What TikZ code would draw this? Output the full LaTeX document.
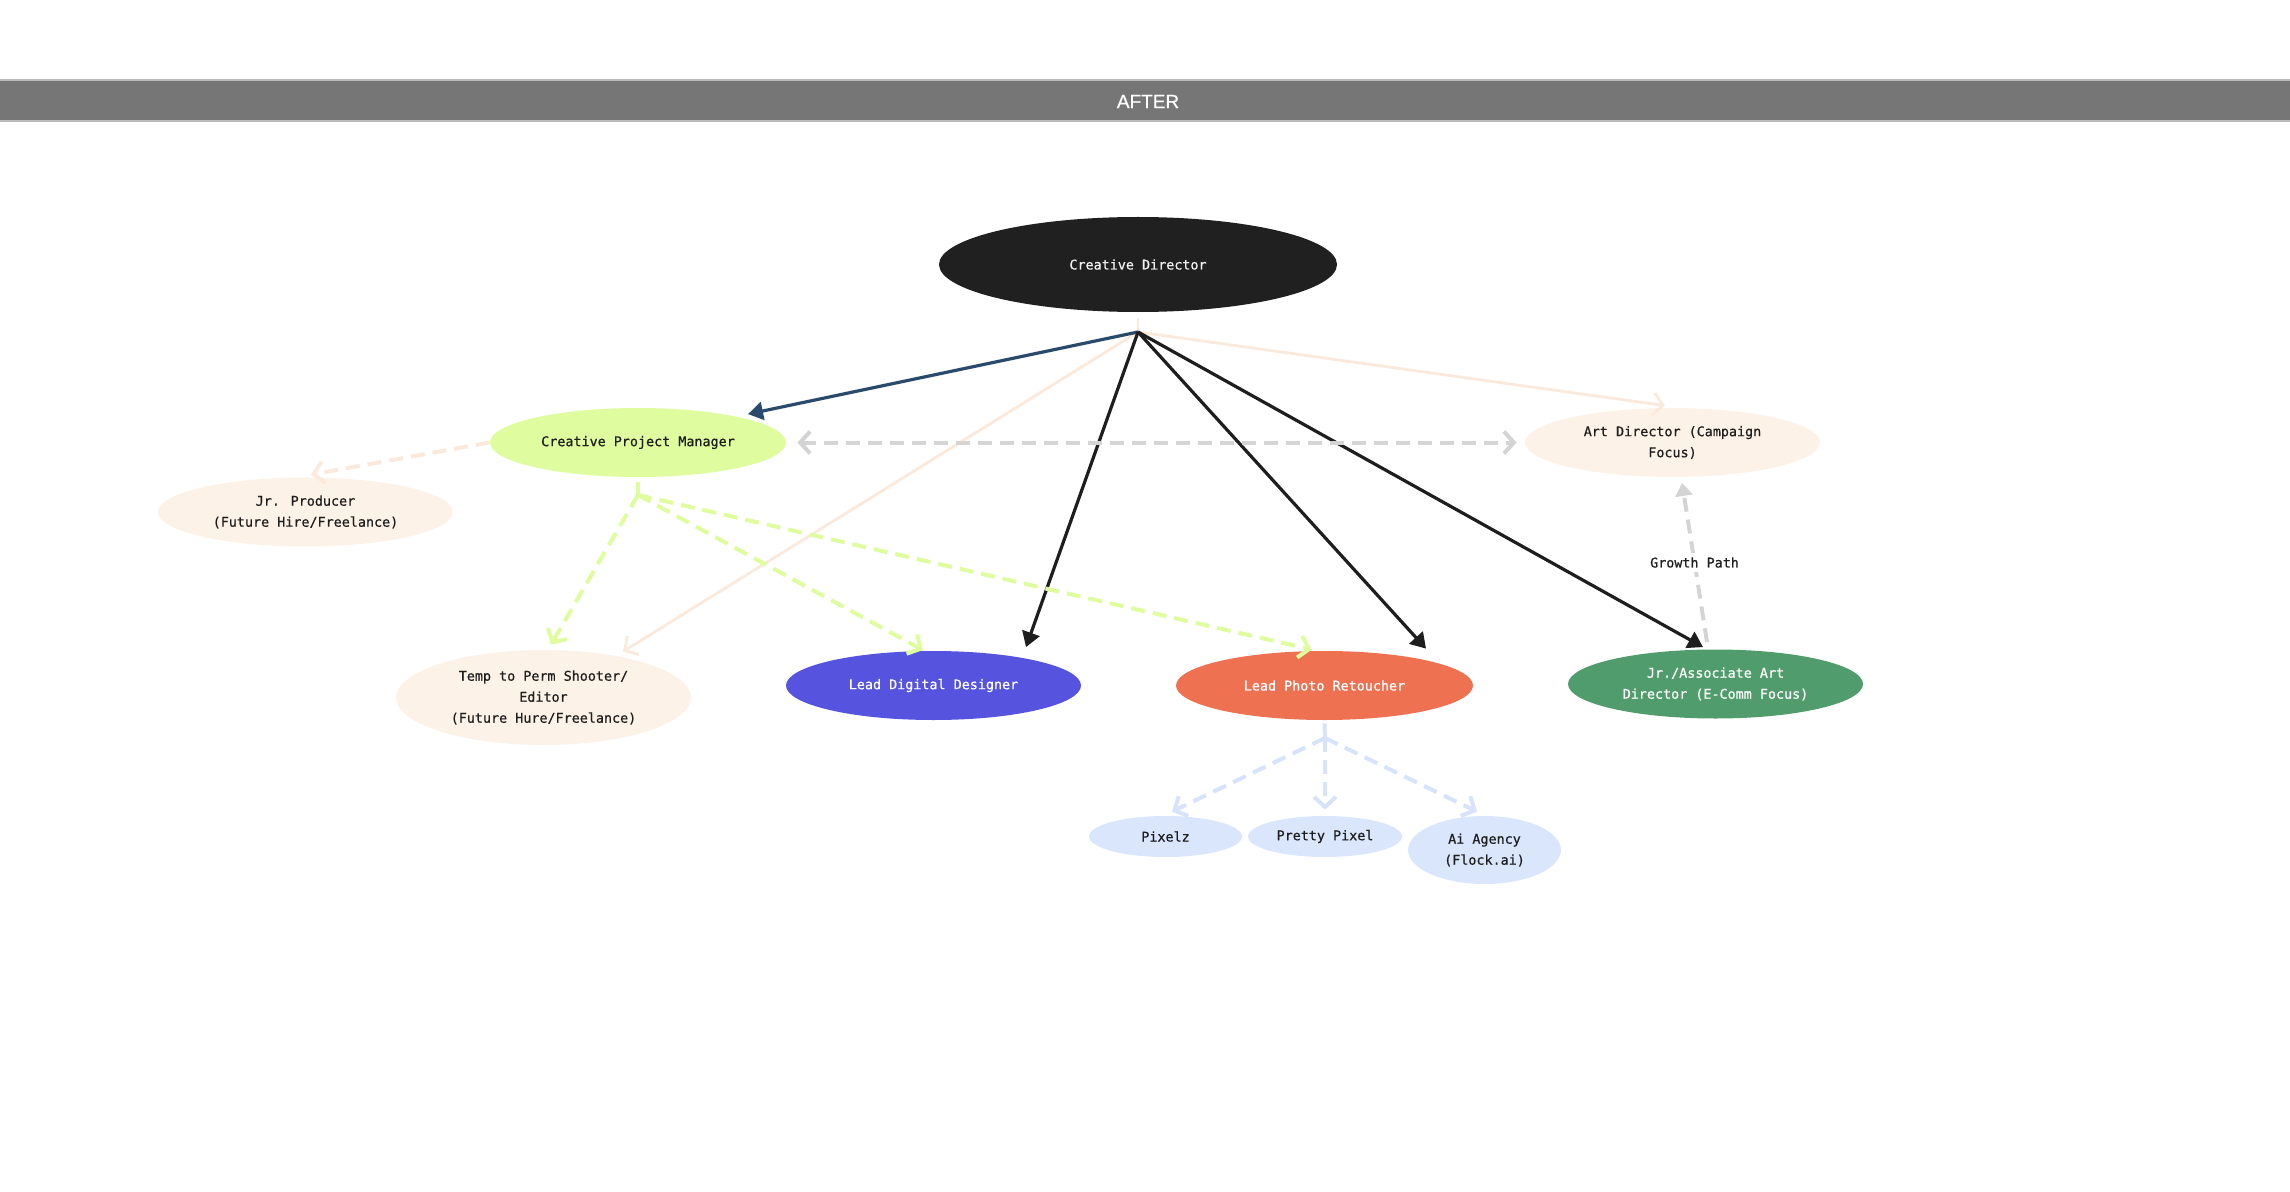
\documentclass[tikz,border=0pt]{standalone}
\usepackage{fontspec}
\newfontfamily\rolefont{DejaVu Sans Mono}[FakeBold=0.6]
\newfontfamily\barfont{Liberation Sans}[FakeBold=0.8]
\usetikzlibrary{arrows.meta}
\usetikzlibrary{shapes.geometric}
\definecolor{bargrey}{HTML}{767676}
\definecolor{barline}{HTML}{BBBBBB}
\definecolor{inkgrey}{HTML}{1E1E1E}
\definecolor{cdblack}{HTML}{202020}
\definecolor{cdtext}{HTML}{F2F2F2}
\definecolor{pmlime}{HTML}{DFFC9E}
\definecolor{peach}{HTML}{FDF2E8}
\definecolor{peachline}{HTML}{FBEADC}
\definecolor{digiblue}{HTML}{5653DF}
\definecolor{retouch}{HTML}{EE7152}
\definecolor{adgreen}{HTML}{509C6C}
\definecolor{vendorblue}{HTML}{DAE6FB}
\definecolor{vendorline}{HTML}{D6E3FA}
\definecolor{pmblue}{HTML}{2A4A6B}
\definecolor{lineblack}{HTML}{1E1E1E}
\definecolor{peergrey}{HTML}{D4D4D4}
\tikzset{role/.style = {ellipse, inner sep = 0, align = center, text = inkgrey,
    font = \rolefont\fontsize{6.7}{10.5}\selectfont,
    minimum width = 147.5pt, minimum height = 34.5pt}}
\tikzset{vendor/.style = {role, fill = vendorblue, minimum width = 76.5pt, minimum height = 20.5pt}}
\tikzset{report/.style = {line width = 1.6pt, draw = lineblack, -{Triangle[length = 7.5pt, width = 9pt]}}}
\tikzset{future/.style = {line width = 1.4pt, draw = peachline, -{Straight Barb[length = 5pt, width = 11pt]}}}
\tikzset{assign/.style = {line width = 2pt, dash pattern = on 7pt off 4pt, -{Straight Barb[length = 5pt, width = 11pt]}}}

\begin{document}
\begin{tikzpicture}[x = 0.5pt, y = -0.5pt]
      \useasboundingbox (0, 0) rectangle (2290, 1192);
      \fill [bargrey] (0, 80) rectangle (2290, 121);
      \draw [barline, line width = 0.6pt] (0, 80) -- (2290, 80) (0, 121) -- (2290, 121);
      \node [text = white, font = \barfont\fontsize{9.5}{11}\selectfont] (after) at (1148, 101.5) {AFTER};

      \node [role, fill = cdblack, text = cdtext, minimum width = 199pt, minimum height = 47.5pt] (cd) at (1138, 264.5) {Creative Director};
      \node [role, fill = pmlime, minimum width = 148pt] (cpm) at (638, 442.5) {Creative Project Manager};
      \node [role, fill = peach] (jrprod) at (305.5, 512) {Jr. Producer\\(Future Hire/Freelance)};
      \node [role, fill = peach] (artdir) at (1672.5, 442.5) {Art Director (Campaign\\Focus)};
      \node [role, fill = peach, minimum height = 47.5pt] (shooter) at (543.5, 697.5) {Temp to Perm Shooter/\\Editor\\(Future Hure/Freelance)};
      \node [role, fill = digiblue, text = white] (digital) at (933.5, 685.5) {Lead Digital Designer};
      \node [role, fill = retouch, text = white, minimum width = 148.5pt] (retoucher) at (1324.5, 685.5) {Lead Photo Retoucher};
      \node [role, fill = adgreen, text = white] (jrad) at (1715.5, 684) {Jr./Associate Art\\Director (E-Comm Focus)};
      \node [vendor] (pixelz) at (1165.5, 836.5) {Pixelz};
      \node [vendor, minimum width = 77pt] (pretty) at (1325, 836.5) {Pretty Pixel};
      \node [vendor, minimum height = 34pt] (aiagency) at (1484.5, 850) {Ai Agency\\(Flock.ai)};

      \coordinate (cdhub) at (1138, 332);
      \coordinate (cpmhub) at (638, 495);
      \coordinate (rethub) at (1325, 738);

      \draw [future, -] ([shift = {(0, 6)}]cd.south) -- (cdhub);
      \draw [future] (cdhub) -- ([shift = {(-7.5, -2)}]artdir.north);
      \draw [future] (cdhub) -- ([shift = {(79.5, 2)}]shooter.north);
      \draw [report, draw = pmblue] (cdhub) -- ([shift = {(110, 6.5)}]cpm.north);
      \draw [report] (cdhub) -- ([shift = {(92.5, -3.5)}]digital.north);
      \draw [report] (cdhub) -- ([shift = {(101.5, -2)}]retoucher.north);
      \draw [report] (cdhub) -- ([shift = {(-12.5, -2)}]jrad.north);

      \draw [assign, draw = peachline] (cpm.west) -- ([shift = {(5.5, -2.5)}]jrprod.north);
      \draw [assign, draw = peergrey, {Straight Barb[length = 5pt, width = 11pt]}-{Straight Barb[length = 5pt, width = 11pt]}]
        ([shift = {(11, 0)}]cpm.east) -- ([shift = {(-8, 0)}]artdir.west);

      \draw [assign, draw = pmlime, -] ([shift = {(0, 5)}]cpm.south) -- (cpmhub);
      \draw [assign, draw = pmlime] (cpmhub) -- ([shift = {(7.5, -5)}]shooter.north);
      \draw [assign, draw = pmlime] (cpmhub) -- ([shift = {(-10.5, -0.5)}]digital.north);
      \draw [assign, draw = pmlime] (cpmhub) -- ([shift = {(-12.5, -1)}]retoucher.north);

      \draw [assign, draw = vendorline, -] ([shift = {(0, 3)}]retoucher.south) -- (rethub);
      \draw [assign, draw = vendorline] (rethub) -- ([shift = {(6.5, -4)}]pixelz.north);
      \draw [assign, draw = vendorline] (rethub) -- ([shift = {(0, -6)}]pretty.north);
      \draw [assign, draw = vendorline] (rethub) -- ([shift = {(-7.5, -4)}]aiagency.north);

      \draw [assign, draw = peergrey, -{Triangle[length = 6.5pt, width = 8.5pt]}]
        ([shift = {(-8.5, -7)}]jrad.north) -- ([shift = {(9.5, 5.5)}]artdir.south)
        node [midway, fill = white, inner sep = 2pt, text = inkgrey, font = \rolefont\fontsize{6.7}{10.5}\selectfont] (growth) {Growth Path};
    \end{tikzpicture}
\end{document}
